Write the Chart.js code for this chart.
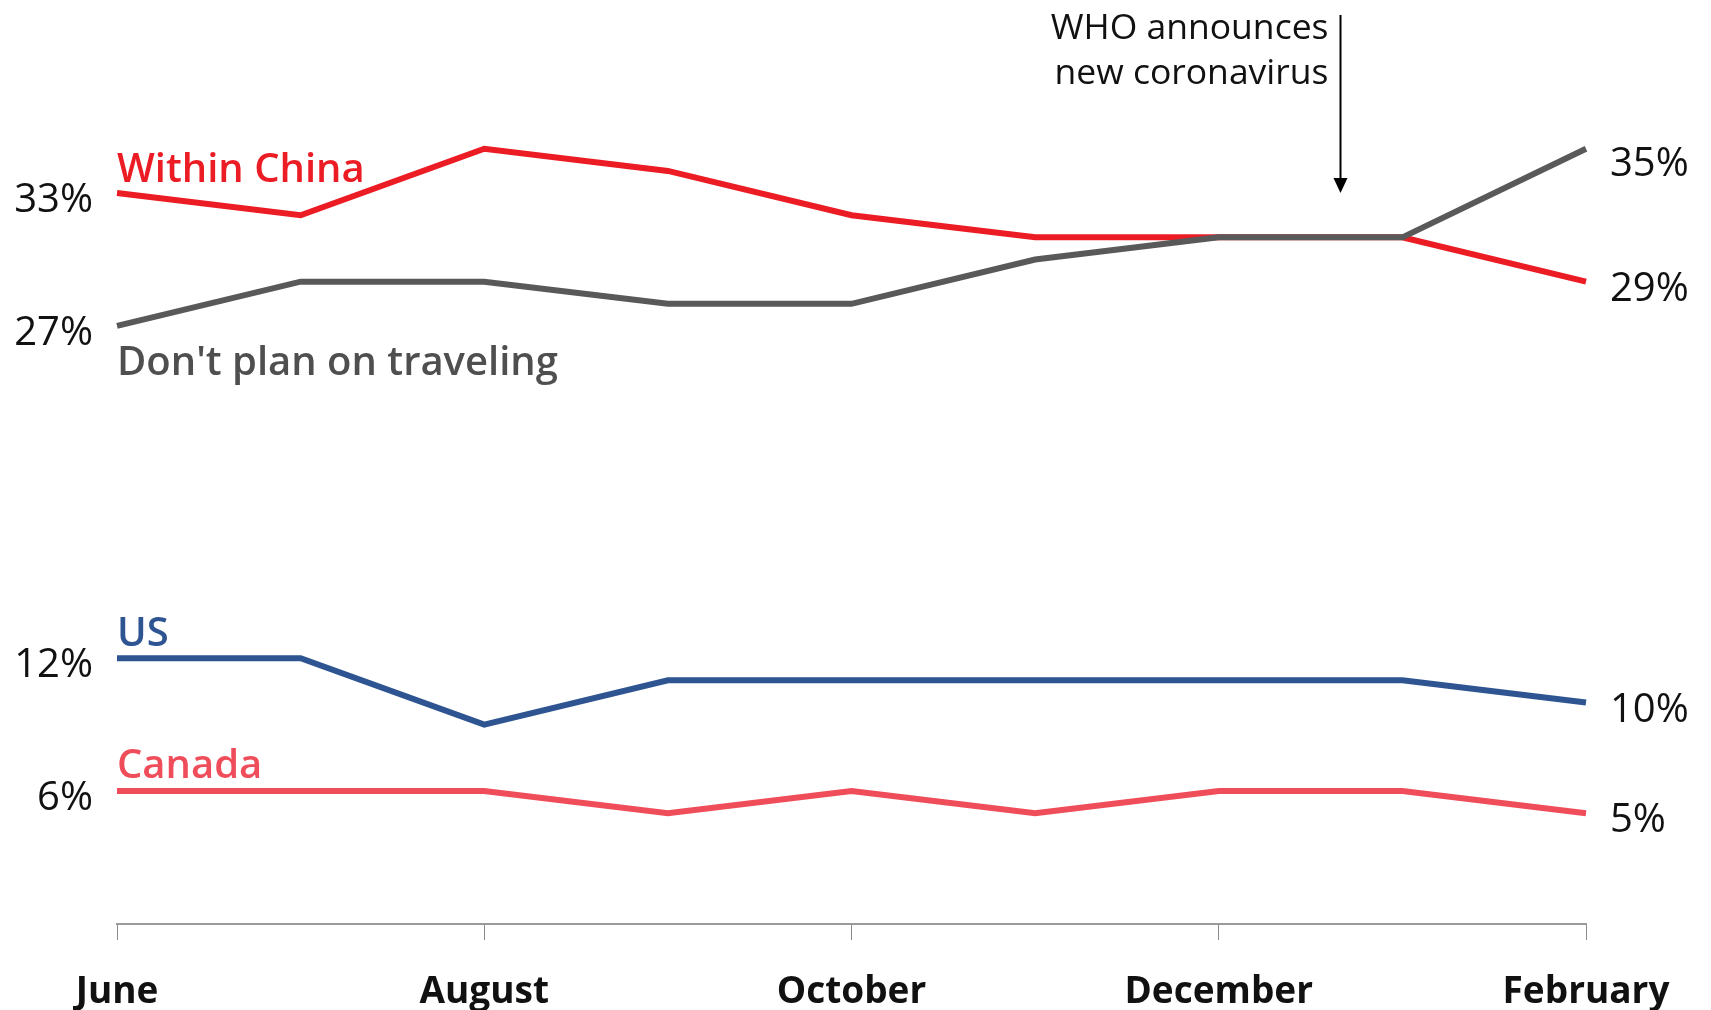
<!DOCTYPE html>
<html>
<head>
<meta charset="utf-8">
<script src="https://cdn.jsdelivr.net/npm/chart.js@4.4.1/dist/chart.umd.min.js"></script>
<style>
  html, body { margin: 0; padding: 0; background: #ffffff; }
  canvas { display: block; }
</style>
</head>
<body>
<canvas id="chart" width="1711" height="1010"></canvas>
<script>
// Monthly survey: where respondents plan to travel
const months = ['June', 'July', 'August', 'September', 'October', 'November', 'December', 'January', 'February'];
const withinChina = [33, 32, 35, 34, 32, 31, 31, 31, 29];
const noTravel    = [27, 29, 29, 28, 28, 30, 31, 31, 35];
const usTravel    = [12, 12, 9, 11, 11, 11, 11, 11, 10];
const canadaTravel = [6, 6, 6, 5, 6, 5, 6, 6, 5];

const seriesNames = ['Within China', "Don't plan on traveling", 'US', 'Canada'];
const announcement = ['WHO announces', 'new coronavirus'];
const announceAt = 6.66; // position along the month axis

// Styling for each series (colour, label placement)
const styles = [
  { color: '#EC1C24', text: '#EC1C24', nameDy: -11, endDy: 19, order: 1 },
  { color: '#595959', text: '#4F4F4F', nameDy: 49,  endDy: 27, order: 0 },
  { color: '#2E5591', text: '#2E5591', nameDy: -12, endDy: 19, order: 2 },
  { color: '#EF4D59', text: '#EF4D59', nameDy: -13, endDy: 19, order: 3 }
];
const seriesValues = [withinChina, noTravel, usTravel, canadaTravel];

const FONT = "'Open Sans', 'Noto Sans', sans-serif";

const labelPlugin = {
  id: 'seriesLabels',
  afterDatasetsDraw(chart) {
    const ctx = chart.ctx;
    const xs = chart.scales.x, ys = chart.scales.y;
    const last = months.length - 1;
    ctx.save();
    seriesValues.forEach((vals, i) => {
      const st = styles[i];
      const x0 = xs.getPixelForValue(0), xN = xs.getPixelForValue(last);
      const y0 = ys.getPixelForValue(vals[0]), yN = ys.getPixelForValue(vals[last]);
      ctx.textBaseline = 'alphabetic';
      // start and end values
      ctx.fillStyle = '#111111';
      ctx.font = `500 40px ${FONT}`;
      ctx.textAlign = 'right';
      ctx.fillText(vals[0] + '%', x0 - 24, y0 + 19);
      ctx.textAlign = 'left';
      ctx.fillText(vals[last] + '%', xN + 24, yN + st.endDy);
      // series name
      ctx.fillStyle = st.text;
      ctx.font = `600 40px ${FONT}`;
      ctx.fillText(seriesNames[i], x0, y0 + st.nameDy);
    });

    // announcement arrow
    const a = xs.getPixelForValue(Math.floor(announceAt));
    const b = xs.getPixelForValue(Math.floor(announceAt) + 1);
    const ax = Math.round(a + (b - a) * (announceAt - Math.floor(announceAt))) + 0.5;
    const tipY = ys.getPixelForValue(33);
    ctx.strokeStyle = '#000';
    ctx.lineWidth = 2;
    ctx.beginPath();
    ctx.moveTo(ax, 15);
    ctx.lineTo(ax, tipY - 14);
    ctx.stroke();
    ctx.fillStyle = '#000';
    ctx.beginPath();
    ctx.moveTo(ax - 7, tipY - 15);
    ctx.lineTo(ax + 7, tipY - 15);
    ctx.lineTo(ax, tipY);
    ctx.closePath();
    ctx.fill();
    ctx.font = `500 35.5px ${FONT}`;
    ctx.textAlign = 'right';
    ctx.fillStyle = '#111111';
    ctx.fillText(announcement[0], ax - 12, 39);
    ctx.fillText(announcement[1], ax - 12, 84);
    ctx.restore();
  }
};

new Chart(document.getElementById('chart'), {
  type: 'line',
  data: {
    labels: months,
    datasets: seriesValues.map((vals, i) => ({
      label: seriesNames[i],
      data: vals,
      borderColor: styles[i].color,
      borderWidth: 6,
      pointRadius: 0,
      tension: 0,
      fill: false,
      order: styles[i].order
    }))
  },
  options: {
    responsive: false,
    animation: false,
    events: [],
    layout: { padding: { left: 117, right: 125, top: 38, bottom: 0 } },
    plugins: { legend: { display: false }, tooltip: { enabled: false } },
    scales: {
      y: { display: false, min: 0, max: 40 },
      x: {
        offset: false,
        afterFit(scale) { scale.height = 86; },
        border: { display: true, color: '#9A9A9A', width: 2 },
        grid: {
          drawOnChartArea: false,
          drawTicks: true,
          tickLength: 16,
          tickWidth: 1,
          tickColor: (c) => (c.index % 2 === 0 ? '#8A8A8A' : 'rgba(0,0,0,0)')
        },
        ticks: {
          autoSkip: false,
          maxRotation: 0,
          padding: 30,
          color: '#111111',
          font: { family: FONT, size: 37, weight: '700' },
          callback: (v, i) => (i % 2 === 0 ? months[i] : '')
        }
      }
    }
  },
  plugins: [labelPlugin]
});
</script>
</body>
</html>
